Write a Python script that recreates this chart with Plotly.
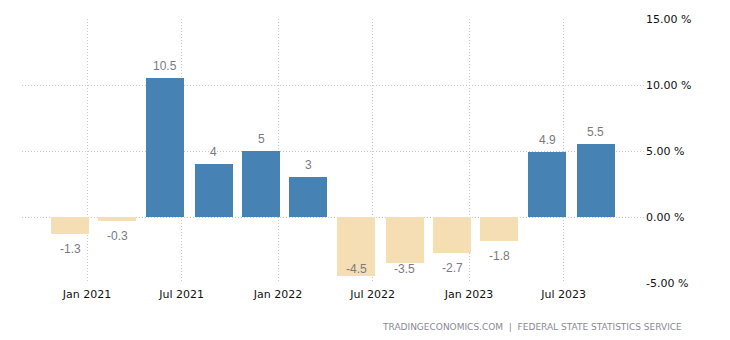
import plotly.graph_objects as go
import pandas as pd

dates = ["2020-11-30", "2021-02-28", "2021-05-31", "2021-08-31", "2021-11-30", "2022-02-28",
         "2022-05-31", "2022-08-31", "2022-11-30", "2023-02-28", "2023-05-31", "2023-08-31"]
values = [-1.3, -0.3, 10.5, 4, 5, 3, -4.5, -3.5, -2.7, -1.8, 4.9, 5.5]
labels = ["-1.3", "-0.3", "10.5", "4", "5", "3", "-4.5", "-3.5", "-2.7", "-1.8", "4.9", "5.5"]
tick_dates = ["2021-01-01", "2021-07-01", "2022-01-01", "2022-07-01", "2023-01-01", "2023-07-01"]
tick_text = ["Jan 2021", "Jul 2021", "Jan 2022", "Jul 2022", "Jan 2023", "Jul 2023"]
y_ticks = [-5, 0, 5, 10, 15]
y_text = ["-5.00 %", "0.00 %", "5.00 %", "10.00 %", "15.00 %"]

POS = "#4682B4"
NEG = "#F5DEB3"
colors = [POS if v >= 0 else NEG for v in values]

Y_MIN, Y_MAX = -5, 15
ppd = 191 / 365.0  # pixels per day
jan21 = pd.Timestamp("2021-01-01")
x0 = jan21 - pd.Timedelta(days=(87 - 22) / ppd)
x1 = jan21 + pd.Timedelta(days=(645 - 87) / ppd)
bar_w = 38 / ppd * 86400000
px_per_unit = 264 / (Y_MAX - Y_MIN)

fig = go.Figure()
fig.add_trace(go.Bar(x=dates, y=values, marker=dict(color=colors, line=dict(width=0)),
                     width=[bar_w] * len(values), hoverinfo="skip"))

for d, v, t in zip(dates, values, labels):
    if v >= 0:
        y, shift = v, 12
    else:
        y, shift = v, -15
        # keep the label inside the plot area when the bar reaches the bottom
        if (v - Y_MIN) * px_per_unit < 22:
            y, shift = Y_MIN, 14
    fig.add_annotation(x=d, y=y, text=t, showarrow=False, yshift=shift,
                       font=dict(family="Liberation Sans, Arial", size=12, color="#7a7a80"))

fig.add_annotation(xref="paper", yref="paper", x=1.0626, y=-0.165, xanchor="right", yanchor="middle",
                   text="TRADINGECONOMICS.COM  |  FEDERAL STATE STATISTICS SERVICE", showarrow=False,
                   font=dict(family="DejaVu Sans", size=9, color="#8a8a95"))

grid = dict(showgrid=True, gridcolor="#c8c8c8", griddash="1px,2px", gridwidth=1)
fig.update_layout(
    width=730, height=340, margin=dict(l=22, r=85, t=19, b=57),
    paper_bgcolor="white", plot_bgcolor="white", showlegend=False, bargap=0,
    xaxis=dict(type="date", range=[x0, x1], tickvals=tick_dates, ticktext=tick_text,
               tickfont=dict(family="DejaVu Sans", size=11, color="#111111"),
               ticklabelstandoff=3,
               ticks="", zeroline=False, showline=False, **grid),
    yaxis=dict(range=[Y_MIN, Y_MAX], tickvals=y_ticks, ticktext=y_text, side="right",
               tickfont=dict(family="DejaVu Sans", size=11, color="#111111"),
               ticks="", zeroline=False, showline=False, **grid),
)
fig.write_html("out.html")
